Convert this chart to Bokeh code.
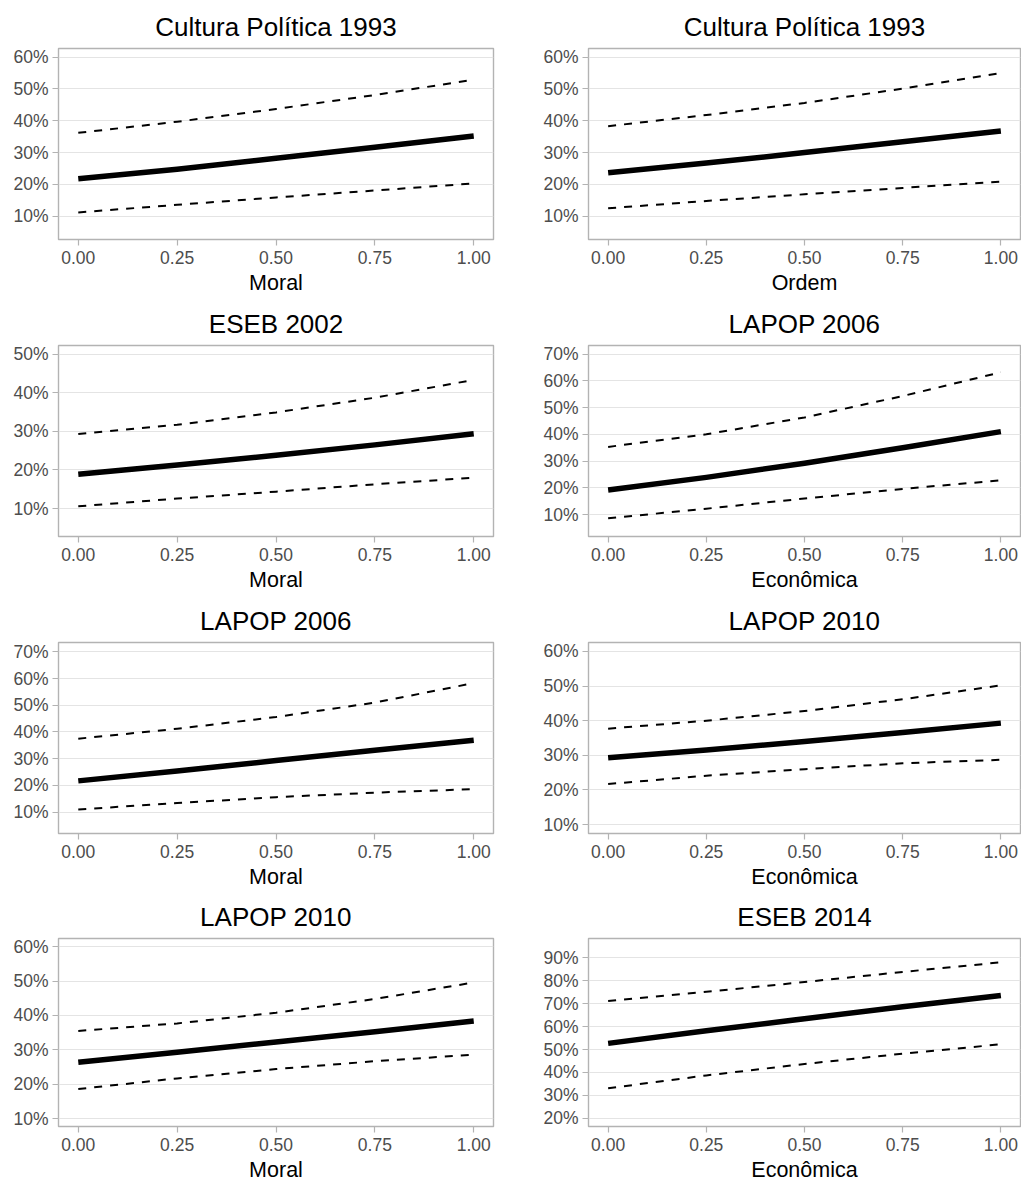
from bokeh.plotting import figure
from bokeh.layouts import column, row
from bokeh.models import FixedTicker, PrintfTickFormatter
from bokeh.embed import file_html
from bokeh.resources import INLINE

# ---------------- data (percent) ----------------
x_vals = [0.0, 0.25, 0.50, 0.75, 1.0]
x_ticks = [0.0, 0.25, 0.50, 0.75, 1.0]

titles = ["Cultura Política 1993", "Cultura Política 1993", "ESEB 2002", "LAPOP 2006",
          "LAPOP 2006", "LAPOP 2010", "LAPOP 2010", "ESEB 2014"]
xlabels = ["Moral", "Ordem", "Moral", "Econômica", "Moral", "Econômica", "Moral", "Econômica"]

mean_p1 = [21.8, 24.8, 28.2, 31.7, 35.2]
upper_p1 = [36.2, 39.7, 43.7, 48.1, 52.9]
lower_p1 = [11.2, 13.6, 15.9, 18.1, 20.3]

mean_p2 = [23.7, 26.7, 30.0, 33.4, 36.8]
upper_p2 = [38.3, 41.8, 45.6, 50.1, 55.0]
lower_p2 = [12.5, 14.8, 16.9, 18.9, 20.9]

mean_p3 = [18.9, 21.3, 23.8, 26.5, 29.4]
upper_p3 = [29.3, 31.7, 34.9, 38.7, 43.3]
lower_p3 = [10.6, 12.6, 14.4, 16.3, 18.0]

mean_p4 = [19.2, 23.9, 29.2, 35.0, 41.0]
upper_p4 = [35.3, 40.0, 46.3, 54.3, 63.2]
lower_p4 = [8.6, 12.2, 16.0, 19.6, 22.8]

mean_p5 = [21.7, 25.4, 29.3, 33.2, 36.9]
upper_p5 = [37.5, 41.2, 45.6, 51.0, 58.3]
lower_p5 = [11.0, 13.4, 15.6, 17.3, 18.6]

mean_p6 = [29.3, 31.5, 34.0, 36.6, 39.3]
upper_p6 = [37.7, 40.0, 42.8, 46.2, 50.2]
lower_p6 = [21.7, 24.1, 26.0, 27.7, 28.7]

mean_p7 = [26.4, 29.3, 32.3, 35.3, 38.4]
upper_p7 = [35.5, 37.7, 40.8, 44.8, 49.6]
lower_p7 = [18.6, 21.7, 24.4, 26.7, 28.6]

mean_p8 = [52.7, 58.2, 63.5, 68.7, 73.6]
upper_p8 = [71.2, 75.2, 79.5, 83.9, 88.1]
lower_p8 = [33.1, 38.7, 43.7, 48.2, 52.3]

y_ranges = [(2.7, 62.7), (2.7, 62.7), (2.8, 52.2), (1.8, 73.2),
            (2.0, 73.5), (7.4, 62.6), (7.7, 62.4), (16.4, 98.5)]
y_ticks = [[10, 20, 30, 40, 50, 60], [10, 20, 30, 40, 50, 60], [10, 20, 30, 40, 50],
           [10, 20, 30, 40, 50, 60, 70], [10, 20, 30, 40, 50, 60, 70],
           [10, 20, 30, 40, 50, 60], [10, 20, 30, 40, 50, 60],
           [20, 30, 40, 50, 60, 70, 80, 90]]

means = [mean_p1, mean_p2, mean_p3, mean_p4, mean_p5, mean_p6, mean_p7, mean_p8]
uppers = [upper_p1, upper_p2, upper_p3, upper_p4, upper_p5, upper_p6, upper_p7, upper_p8]
lowers = [lower_p1, lower_p2, lower_p3, lower_p4, lower_p5, lower_p6, lower_p7, lower_p8]

FONT = "Liberation Sans"


def make_panel(i):
    col = i % 2
    r = i // 2
    if col == 0:
        w, bl, br = 511, 58, 18
    else:
        w, bl, br = 510, 77, 1
    if r < 3:
        top, bottom = 48, 57
    else:
        top, bottom = 47, 54
    h = top + 192 + bottom
    p = figure(width=w, height=h, x_range=(-0.05, 1.05), y_range=y_ranges[i],
               output_backend="svg", toolbar_location=None,
               min_border_left=bl, min_border_right=br,
               min_border_top=top, min_border_bottom=bottom,
               title=titles[i])
    p.title.text_font = FONT
    p.title.text_font_size = "26px"
    p.title.text_font_style = "normal"
    p.title.text_color = "black"
    p.title.align = "center"
    p.title.standoff = 13

    p.background_fill_color = "white"
    p.border_fill_color = "white"
    p.outline_line_color = "#B3B3B3"
    p.outline_line_width = 1.4

    p.xgrid.visible = False
    p.ygrid.grid_line_color = "#E4E4E4"
    p.ygrid.grid_line_width = 1.2
    p.ygrid.ticker = FixedTicker(ticks=y_ticks[i])

    p.xaxis.ticker = FixedTicker(ticks=x_ticks)
    p.xaxis.formatter = PrintfTickFormatter(format="%.2f")
    p.yaxis.ticker = FixedTicker(ticks=y_ticks[i])
    p.yaxis.formatter = PrintfTickFormatter(format="%d%%")

    for ax in (p.xaxis, p.yaxis):
        ax.axis_line_color = None
        ax.major_tick_line_color = "#B3B3B3"
        ax.major_tick_line_width = 1.2
        ax.major_tick_out = 6
        ax.major_tick_in = 0
        ax.minor_tick_line_color = None
        ax.major_label_text_font = FONT
        ax.major_label_text_font_size = "17.5px"
        ax.major_label_text_color = "#4D4D4D"
        ax.axis_label_text_font = FONT
        ax.axis_label_text_font_size = "21.5px"
        ax.axis_label_text_font_style = "normal"
        ax.axis_label_text_color = "black"
    p.xaxis.major_label_standoff = 5
    p.xaxis.axis_label_standoff = 4
    p.yaxis.major_label_standoff = 4
    p.xaxis.axis_label = xlabels[i]

    p.line(x_vals, uppers[i], line_color="black", line_width=2, line_dash="8 8",
           line_join="round")
    p.line(x_vals, lowers[i], line_color="black", line_width=2, line_dash="8 8",
           line_join="round")
    p.line(x_vals, means[i], line_color="black", line_width=5.5, line_join="round")
    return p


panels = [make_panel(i) for i in range(8)]
layout = column(*[row(panels[2 * k], panels[2 * k + 1]) for k in range(4)])

open("out.html", "w").write(file_html(layout, INLINE))
